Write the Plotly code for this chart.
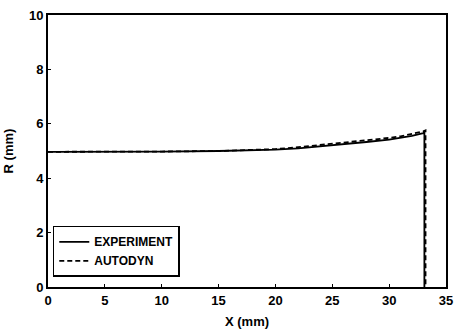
import plotly.graph_objects as go

# Experiment profile
exp_x = [0, 5, 10, 15, 18, 20, 22, 24, 26, 28, 30, 31, 32, 33.0, 33.1, 33.1]
exp_r = [4.97, 4.97, 4.98, 5.0, 5.02, 5.05, 5.1, 5.17, 5.25, 5.33, 5.42, 5.48, 5.56, 5.66, 5.68, 0.0]

# AUTODYN profile
dyn_x = [0, 5, 10, 15, 18, 20, 22, 24, 26, 28, 30, 31, 32, 33.0, 33.2, 33.2]
dyn_r = [4.97, 4.97, 4.98, 5.0, 5.03, 5.07, 5.14, 5.22, 5.31, 5.39, 5.48, 5.54, 5.62, 5.72, 5.76, 0.0]

x_ticks = [0, 5, 10, 15, 20, 25, 30, 35]
y_ticks = [0, 2, 4, 6, 8, 10]

fig = go.Figure()
fig.add_trace(go.Scatter(x=exp_x, y=exp_r, mode="lines", name="EXPERIMENT",
                         line=dict(color="black", width=1.8)))
fig.add_trace(go.Scatter(x=dyn_x, y=dyn_r, mode="lines", name="AUTODYN",
                         line=dict(color="black", width=1.8, dash="5px,3px")))

font = dict(family="Liberation Sans, Arial, sans-serif", size=13, color="black", weight="bold")

fig.update_layout(
    width=461, height=336,
    margin=dict(l=45, r=8, t=9, b=49),
    paper_bgcolor="white", plot_bgcolor="white",
    font=font,
    showlegend=True,
    legend=dict(x=0.012, y=0.225, xanchor="left", yanchor="top",
                bordercolor="black", borderwidth=1.5, bgcolor="white",
                font=dict(family="Liberation Sans, Arial, sans-serif", size=12, weight="bold"),
                itemwidth=30, tracegroupgap=8),
    xaxis=dict(range=[0, 35], tickvals=x_ticks, showgrid=False, zeroline=False,
               showline=True, linecolor="black", linewidth=2, mirror=True,
               ticks="inside", ticklen=3, tickcolor="black",
               title=dict(text="X (mm)", standoff=10, font=font), tickfont=font),
    yaxis=dict(range=[0, 10], tickvals=y_ticks, showgrid=False, zeroline=False,
               showline=True, linecolor="black", linewidth=2, mirror=True,
               ticks="inside", ticklen=3, tickcolor="black",
               title=dict(text="R (mm)", standoff=12, font=font), tickfont=font),
)

fig.write_html("out.html")
